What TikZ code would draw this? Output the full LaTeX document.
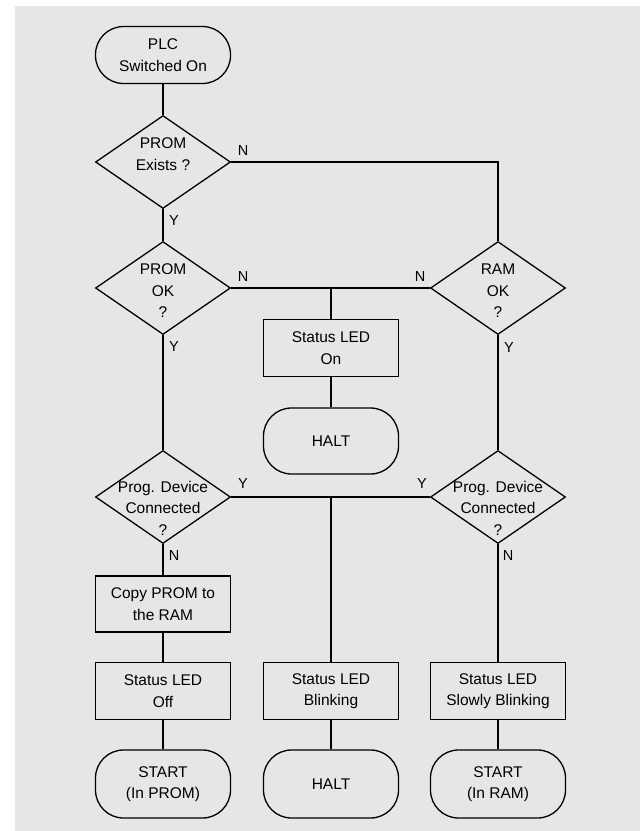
\documentclass[tikz,border=0pt]{standalone}
\usepackage{fontspec}
\setmainfont{Liberation Sans}
\usetikzlibrary{shapes.geometric}
\definecolor{bggray}{RGB}{230,230,230}
\begin{document}
\begin{tikzpicture}[x=1pt,y=-1pt,
  every node/.style={font=\fontsize{15.5}{21.5}\selectfont, align=center, inner sep=0pt},
  conn/.style={line width=1.3pt},
  dia/.style={draw, line width=1.3pt, diamond, minimum width=135pt, minimum height=93pt, inner sep=0pt},
  stepbox/.style={draw, line width=1.3pt, rectangle, minimum width=135pt, minimum height=57pt},
  term/.style={draw, line width=1.3pt, rectangle, rounded corners=28pt, minimum width=135pt, minimum height=#1},
  term/.default=66pt,
  lab/.style={font=\fontsize{14.5}{16}\selectfont, inner sep=0pt}
]
\useasboundingbox (0,0) rectangle (640,831);
\fill[bggray] (15,6) rectangle (640,831);

% terminals
\node[term=57pt] (plc) at (163,55) {PLC\\Switched On};
\node[term=66pt] (halt1) at (331,441) {HALT};
\node[term=68pt] (start1) at (163,784) {START\\(In PROM)};
\node[term=68pt] (halt2) at (331,784) {HALT};
\node[term=68pt] (start2) at (498,784) {START\\(In RAM)};

% diamonds
\node[dia] (d1) at (163,162) {};
\node at (163,154) {PROM\\Exists ?};
\node[dia] (d2) at (163,288) {};
\node at (163,291) {PROM\\OK\\?};
\node[dia] (d3) at (498,288) {};
\node at (498,291) {RAM\\OK\\?};
\node[dia] (d4) at (163,497) {};
\node at (163,508) {Prog. Device\\Connected\\?};
\node[dia] (d5) at (498,497) {};
\node at (498,508) {Prog. Device\\Connected\\?};

% boxes
\node[stepbox] (ledon) at (331,348) {Status LED\\On};
\node[stepbox,minimum height=56pt] (copy) at (163,604) {Copy PROM to\\the RAM};
\node[stepbox] (ledoff) at (163,691) {Status LED\\Off};
\node[stepbox] (blink) at (331,691) {Status LED\\Blinking};
\node[stepbox] (slow) at (498,691) {Status LED\\Slowly Blinking};

% junctions
\coordinate (c1) at (498,162);
\coordinate (j1) at (331,288);
\coordinate (j2) at (331,497);

% connectors
\draw[conn] (plc.south) -- (d1.north);
\draw[conn] (d1.south) -- (d2.north);
\draw[conn] (d1.east) -- (c1) -- (d3.north);
\draw[conn] (d2.east) -- (d3.west);
\draw[conn] (j1) -- (ledon.north);
\draw[conn] (ledon.south) -- (halt1.north);
\draw[conn] (d2.south) -- (d4.north);
\draw[conn] (d3.south) -- (d5.north);
\draw[conn] (d4.east) -- (d5.west);
\draw[conn] (j2) -- (blink.north);
\draw[conn] (d4.south) -- (copy.north);
\draw[conn] (copy.south) -- (ledoff.north);
\draw[conn] (ledoff.south) -- (start1.north);
\draw[conn] (blink.south) -- (halt2.north);
\draw[conn] (d5.south) -- (slow.north);
\draw[conn] (slow.south) -- (start2.north);

% labels
\node[lab] (n1) at (243,151) {N};
\node[lab] (y1) at (174,221) {Y};
\node[lab] (n2) at (243,277) {N};
\node[lab] (n3) at (420,277) {N};
\node[lab] (y2) at (174,347) {Y};
\node[lab] (y3) at (509,348) {Y};
\node[lab] (y4) at (243,484) {Y};
\node[lab] (y5) at (422,484) {Y};
\node[lab] (n4) at (174,556) {N};
\node[lab] (n5) at (508,556) {N};
\end{tikzpicture}
\end{document}
